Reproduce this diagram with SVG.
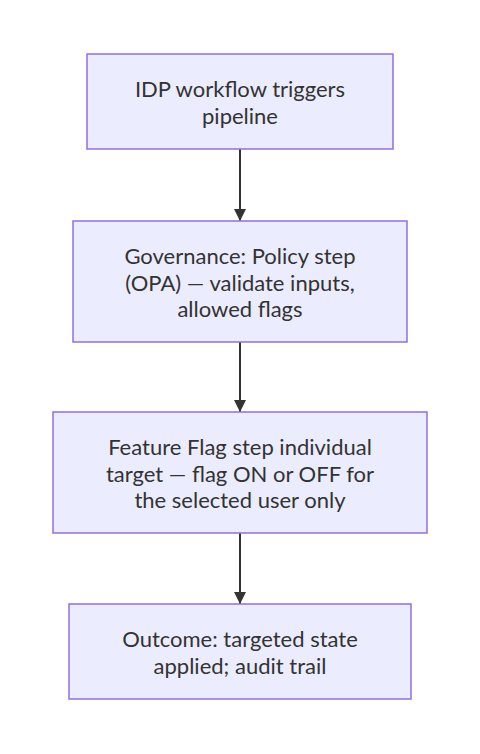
<svg xmlns="http://www.w3.org/2000/svg" width="480" height="754" viewBox="0 0 480 754">
<style>
.node rect{fill:#ECECFF;stroke:#9370DB;stroke-width:1.5}
.node text{font-family:"Trebuchet MS","Lato","Open Sans","DejaVu Sans",sans-serif;font-size:22px;fill:#333333;text-anchor:middle}
.edge{stroke:#333333;stroke-width:2;fill:none}
</style>
<defs>
<marker id="arrow" markerUnits="userSpaceOnUse" viewBox="0 0 12 12" refX="12" refY="6" markerWidth="12" markerHeight="12" orient="auto">
<path d="M0,0 L12,6 L0,12 z" fill="#333333"/>
</marker>
</defs>
<rect width="480" height="754" fill="#ffffff"/>
<g id="connectors">
<line class="edge" x1="240" y1="149" x2="240" y2="221" marker-end="url(#arrow)"/>
<line class="edge" x1="240" y1="342" x2="240" y2="412" marker-end="url(#arrow)"/>
<line class="edge" x1="240" y1="533" x2="240" y2="604" marker-end="url(#arrow)"/>
</g>
<g id="node1" class="node">
<rect x="87" y="54" width="306" height="95"/>
<text><tspan x="240" y="97.2">IDP workflow triggers</tspan><tspan x="240" y="123.8">pipeline</tspan></text>
</g>
<g id="node2" class="node">
<rect x="73" y="221" width="334" height="121"/>
<text><tspan x="240" y="264">Governance: Policy step</tspan><tspan x="240" y="290.5">(OPA) — validate inputs,</tspan><tspan x="240" y="317">allowed flags</tspan></text>
</g>
<g id="node3" class="node">
<rect x="53" y="412" width="374" height="121"/>
<text><tspan x="240" y="455">Feature Flag step individual</tspan><tspan x="240" y="481.5">target — flag ON or OFF for</tspan><tspan x="240" y="508">the selected user only</tspan></text>
</g>
<g id="node4" class="node">
<rect x="69" y="604" width="342" height="95"/>
<text><tspan x="240" y="647.2">Outcome: targeted state</tspan><tspan x="240" y="673.8">applied; audit trail</tspan></text>
</g>
</svg>
